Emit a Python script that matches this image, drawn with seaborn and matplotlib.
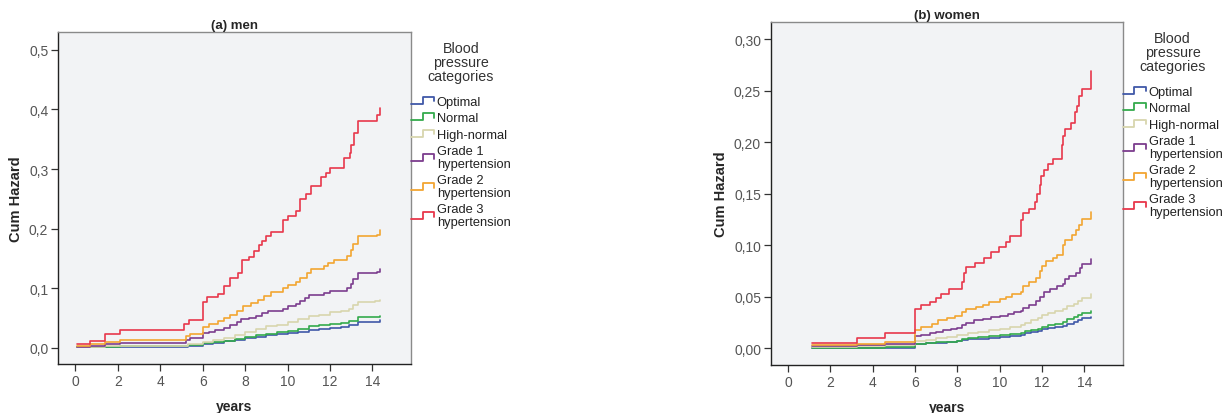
import numpy as np
import pandas as pd
import seaborn as sns
import matplotlib
matplotlib.use("Agg")
import matplotlib.pyplot as plt
from matplotlib.lines import Line2D
from matplotlib.legend_handler import HandlerBase
from matplotlib.ticker import FuncFormatter

# %% data (cumulative hazard step curves)
categories = ['Optimal', 'Normal', 'High-normal', 'Grade 1\nhypertension',
              'Grade 2\nhypertension', 'Grade 3\nhypertension']
colors = ['#4058a8', '#34aa4c', '#d8d6ae', '#7c3d8e', '#f2a531', '#e8374b']

# men
men_optimal_t = [0.1, 2.1, 5.3, 6.0, 6.5, 7.0, 7.5, 8.0, 8.5, 9.0, 9.5, 10.0, 10.5, 11.0, 11.5, 12.0, 12.5, 12.9, 13.3, 14.1, 14.35]
men_optimal_h = [0.001, 0.002, 0.004, 0.007, 0.009, 0.011, 0.014, 0.017, 0.019, 0.021, 0.023, 0.025, 0.027, 0.030, 0.032, 0.034, 0.035, 0.038, 0.043, 0.044, 0.046]
men_normal_t = [0.1, 1.4, 2.1, 5.3, 6.0, 6.5, 7.0, 7.5, 8.0, 8.5, 9.0, 9.5, 10.0, 10.5, 11.0, 11.5, 12.0, 12.5, 12.9, 13.3, 14.1, 14.35]
men_normal_h = [0.001, 0.002, 0.003, 0.005, 0.008, 0.010, 0.012, 0.015, 0.018, 0.021, 0.024, 0.026, 0.029, 0.032, 0.036, 0.038, 0.040, 0.042, 0.045, 0.051, 0.052, 0.054]
men_highnormal_t = [0.1, 1.4, 2.1, 5.3, 6.0, 6.5, 7.0, 7.5, 8.0, 8.5, 9.0, 9.5, 10.0, 10.5, 11.0, 11.5, 12.0, 12.5, 12.9, 13.1, 13.3, 14.1, 14.35]
men_highnormal_h = [0.001, 0.003, 0.004, 0.006, 0.010, 0.013, 0.017, 0.022, 0.027, 0.031, 0.036, 0.039, 0.043, 0.048, 0.053, 0.056, 0.060, 0.062, 0.066, 0.072, 0.077, 0.078, 0.081]
men_grade1_t = [0.1, 0.7, 1.4, 2.1, 5.2, 5.4, 6.0, 6.3, 6.6, 7.0, 7.3, 7.6, 7.8, 8.2, 8.5, 8.8, 9.1, 9.8, 10.0, 10.4, 10.6, 10.8, 11.0, 11.7, 12.0, 12.8, 13.0, 13.1, 13.3, 14.2, 14.35]
men_grade1_h = [0.002, 0.004, 0.006, 0.009, 0.013, 0.016, 0.025, 0.027, 0.030, 0.034, 0.038, 0.043, 0.048, 0.050, 0.054, 0.058, 0.062, 0.066, 0.070, 0.074, 0.078, 0.083, 0.088, 0.092, 0.096, 0.100, 0.107, 0.115, 0.125, 0.128, 0.132]
men_grade2_t = [0.1, 0.7, 1.4, 2.1, 5.2, 5.4, 6.0, 6.3, 6.7, 7.0, 7.3, 7.6, 7.9, 8.3, 8.6, 8.9, 9.2, 9.8, 10.0, 10.4, 10.6, 10.9, 11.1, 11.7, 11.9, 12.2, 12.8, 13.0, 13.1, 13.3, 14.2, 14.35]
men_grade2_h = [0.003, 0.006, 0.010, 0.014, 0.020, 0.024, 0.035, 0.040, 0.045, 0.050, 0.055, 0.062, 0.070, 0.075, 0.080, 0.087, 0.094, 0.100, 0.106, 0.110, 0.118, 0.125, 0.133, 0.138, 0.143, 0.148, 0.155, 0.165, 0.175, 0.188, 0.190, 0.198]
men_grade3_t = [0.1, 0.7, 1.4, 2.1, 5.1, 5.35, 6.0, 6.2, 6.7, 7.0, 7.3, 7.65, 7.85, 8.2, 8.4, 8.65, 8.8, 9.0, 9.2, 9.8, 10.0, 10.4, 10.6, 10.85, 11.1, 11.6, 11.8, 12.0, 12.65, 12.95, 13.0, 13.15, 13.3, 14.2, 14.35]
men_grade3_h = [0.006, 0.012, 0.024, 0.030, 0.040, 0.047, 0.077, 0.085, 0.090, 0.104, 0.117, 0.125, 0.148, 0.153, 0.163, 0.172, 0.180, 0.188, 0.195, 0.215, 0.222, 0.230, 0.250, 0.258, 0.272, 0.286, 0.294, 0.302, 0.318, 0.327, 0.340, 0.360, 0.380, 0.390, 0.402]

# women
women_optimal_t = [1.13, 6.0, 6.5, 7.0, 7.5, 8.0, 8.2, 8.5, 9.0, 9.5, 10.0, 10.5, 11.0, 11.2, 11.5, 11.8, 12.0, 12.3, 12.6, 13.0, 13.2, 13.5, 13.7, 13.9, 14.3]
women_optimal_h = [0.0005, 0.004, 0.005, 0.0055, 0.006, 0.007, 0.008, 0.009, 0.0095, 0.010, 0.011, 0.012, 0.013, 0.015, 0.016, 0.017, 0.019, 0.020, 0.021, 0.022, 0.024, 0.026, 0.027, 0.029, 0.030]
women_normal_t = [1.13, 4.6, 6.0, 6.5, 7.0, 7.5, 8.0, 8.2, 8.5, 9.0, 9.5, 10.0, 10.5, 11.0, 11.2, 11.5, 11.8, 12.0, 12.3, 12.6, 13.0, 13.2, 13.5, 13.7, 13.9, 14.3]
women_normal_h = [0.0005, 0.001, 0.004, 0.005, 0.006, 0.0065, 0.007, 0.009, 0.010, 0.011, 0.012, 0.013, 0.014, 0.015, 0.017, 0.018, 0.019, 0.021, 0.023, 0.024, 0.026, 0.028, 0.030, 0.032, 0.034, 0.036]
women_highnormal_t = [1.13, 3.25, 4.6, 6.0, 6.5, 7.0, 7.5, 8.0, 8.5, 9.0, 9.5, 10.0, 10.5, 11.0, 11.2, 11.5, 11.8, 12.0, 12.3, 12.6, 13.0, 13.2, 13.5, 13.7, 13.9, 14.3]
women_highnormal_h = [0.001, 0.002, 0.003, 0.007, 0.008, 0.010, 0.011, 0.013, 0.015, 0.016, 0.018, 0.019, 0.021, 0.023, 0.025, 0.027, 0.029, 0.032, 0.034, 0.036, 0.038, 0.041, 0.043, 0.046, 0.049, 0.053]
women_grade1_t = [1.13, 3.25, 4.6, 6.0, 6.3, 6.7, 7.0, 7.3, 7.7, 8.0, 8.2, 8.4, 8.8, 9.2, 9.6, 10.0, 10.4, 10.7, 11.0, 11.1, 11.4, 11.7, 11.9, 12.1, 12.4, 12.7, 13.0, 13.1, 13.3, 13.6, 13.8, 13.9, 14.3]
women_grade1_h = [0.002, 0.003, 0.004, 0.012, 0.013, 0.015, 0.016, 0.018, 0.019, 0.020, 0.023, 0.025, 0.027, 0.028, 0.030, 0.031, 0.033, 0.035, 0.036, 0.039, 0.042, 0.046, 0.050, 0.055, 0.058, 0.060, 0.062, 0.067, 0.070, 0.073, 0.078, 0.082, 0.087]
women_grade2_t = [1.13, 3.25, 4.6, 6.0, 6.3, 6.8, 7.1, 7.5, 7.9, 8.2, 8.4, 8.9, 9.2, 9.5, 10.0, 10.3, 10.6, 11.0, 11.1, 11.4, 11.7, 11.9, 12.0, 12.2, 12.5, 12.7, 13.0, 13.1, 13.4, 13.6, 13.75, 13.9, 14.3]
women_grade2_h = [0.003, 0.004, 0.006, 0.018, 0.021, 0.024, 0.027, 0.029, 0.031, 0.035, 0.038, 0.040, 0.042, 0.045, 0.048, 0.050, 0.053, 0.055, 0.060, 0.064, 0.068, 0.075, 0.080, 0.085, 0.088, 0.091, 0.100, 0.105, 0.110, 0.115, 0.120, 0.125, 0.132]
women_grade3_t = [1.13, 3.25, 4.6, 6.0, 6.27, 6.7, 6.97, 7.25, 7.6, 8.2, 8.3, 8.4, 8.85, 9.27, 9.58, 9.99, 10.3, 10.5, 11.0, 11.1, 11.4, 11.65, 11.75, 11.9, 11.97, 12.1, 12.3, 12.5, 12.95, 13.0, 13.1, 13.35, 13.55, 13.67, 13.76, 13.9, 14.3]
women_grade3_h = [0.005, 0.0097, 0.015, 0.038, 0.042, 0.045, 0.0485, 0.053, 0.058, 0.064, 0.073, 0.0786, 0.083, 0.088, 0.093, 0.098, 0.103, 0.109, 0.124, 0.131, 0.135, 0.142, 0.150, 0.158, 0.167, 0.173, 0.179, 0.184, 0.197, 0.206, 0.213, 0.219, 0.229, 0.235, 0.245, 0.252, 0.269]

men_series = [(men_optimal_t, men_optimal_h), (men_normal_t, men_normal_h),
              (men_highnormal_t, men_highnormal_h), (men_grade1_t, men_grade1_h),
              (men_grade2_t, men_grade2_h), (men_grade3_t, men_grade3_h)]
women_series = [(women_optimal_t, women_optimal_h), (women_normal_t, women_normal_h),
                (women_highnormal_t, women_highnormal_h), (women_grade1_t, women_grade1_h),
                (women_grade2_t, women_grade2_h), (women_grade3_t, women_grade3_h)]


def long_table(series):
    frames = []
    for cat, (t, h) in zip(categories, series):
        frames.append(pd.DataFrame({'years': t, 'hazard': h, 'category': cat}))
    return pd.concat(frames, ignore_index=True)


# %% legend glyph like the step in SPSS
class StepHandler(HandlerBase):
    def create_artists(self, legend, orig_handle, xdescent, ydescent,
                       width, height, fontsize, trans):
        x0 = -xdescent
        xs = [x0, x0 + 0.5 * width, x0 + 0.5 * width, x0 + width, x0 + width]
        ys = [-ydescent + 0.1 * height, -ydescent + 0.1 * height,
              -ydescent + 0.85 * height, -ydescent + 0.85 * height,
              -ydescent + 0.35 * height]
        ln = Line2D(xs, ys, color=orig_handle.get_color(), lw=1.3, transform=trans)
        return [ln]


sns.set_style("ticks")
plt.rcParams['font.family'] = ['Liberation Sans', 'DejaVu Sans']

fig = plt.figure(figsize=(12.31, 4.14), dpi=100)
ax1 = fig.add_axes([0.0471, 0.1184, 0.2868, 0.8019])
ax2 = fig.add_axes([0.6261, 0.1159, 0.2860, 0.8292])

panels = [
    (ax1, men_series, '(a) men', (-0.027, 0.53), [0, 0.1, 0.2, 0.3, 0.4, 0.5], 1),
    (ax2, women_series, '(b) women', (-0.0162, 0.3168), [0, 0.05, 0.10, 0.15, 0.20, 0.25, 0.30], 2),
]

for ax, series, title, ylim, yticks, dec in panels:
    df = long_table(series)
    sns.lineplot(data=df, x='years', y='hazard', hue='category', hue_order=categories,
                 palette=colors, estimator=None, drawstyle='steps-post',
                 lw=1.2, legend=False, ax=ax)
    ax.set_facecolor('#f2f3f5')
    ax.set_xlim(-0.82, 15.82)
    ax.set_ylim(*ylim)
    ax.set_xticks([0, 2, 4, 6, 8, 10, 12, 14])
    ax.set_yticks(yticks)
    ax.yaxis.set_major_formatter(FuncFormatter(lambda v, p, d=dec: f'{v:.{d}f}'.replace('.', ',')))
    ax.tick_params(axis='both', direction='out', length=5, width=0.9, labelsize=10,
                   colors='#333333', labelcolor='#555555', pad=2)
    for side in ['left', 'bottom']:
        ax.spines[side].set_color('#222222')
        ax.spines[side].set_linewidth(1.0)
    for side in ['top', 'right']:
        ax.spines[side].set_visible(True)
        ax.spines[side].set_color('#8a8a8a')
        ax.spines[side].set_linewidth(1.0)
    ax.set_title(title, fontsize=9.5, fontweight='bold', pad=3)
    ax.set_xlabel('years', fontsize=10, fontweight='bold', labelpad=8)
    ax.set_ylabel('Cum Hazard', fontsize=10.5, fontweight='bold', labelpad=4)

    handles = [Line2D([], [], color=c) for c in colors]
    leg = ax.legend(handles, categories, title='Blood\npressure\ncategories',
                    loc='upper left', bbox_to_anchor=(1.0, 0.973), frameon=False,
                    fontsize=9.3, title_fontsize=10.3, handlelength=1.8,
                    handletextpad=0.2, labelspacing=0.35, borderaxespad=0,
                    borderpad=0, handler_map={Line2D: StepHandler()})
    leg._legend_box.sep = 9
    leg.get_title().set_multialignment('center')
    leg.get_title().set_color('#333333')
    leg.get_title().set_linespacing(1.0)
    for txt in leg.get_texts():
        txt.set_color('#222222')
        txt.set_linespacing(1.05)

fig.savefig('out.png', dpi=100)
